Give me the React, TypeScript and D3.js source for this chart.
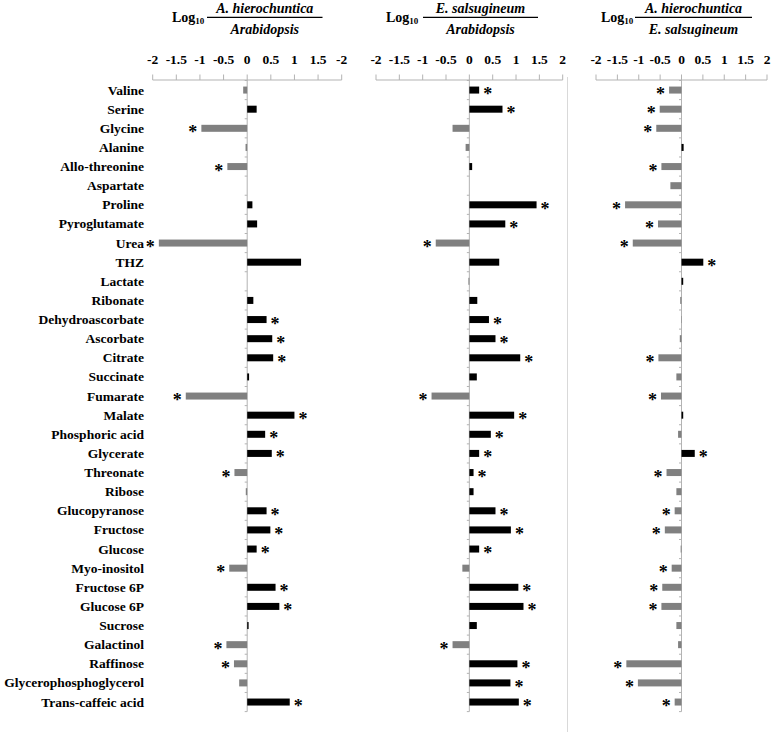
import React from 'react';
import * as d3 from 'd3';

// metabolite names, top to bottom
const categories = [
  'Valine', 'Serine', 'Glycine', 'Alanine', 'Allo-threonine', 'Aspartate', 'Proline',
  'Pyroglutamate', 'Urea', 'THZ', 'Lactate', 'Ribonate', 'Dehydroascorbate', 'Ascorbate',
  'Citrate', 'Succinate', 'Fumarate', 'Malate', 'Phosphoric acid', 'Glycerate', 'Threonate',
  'Ribose', 'Glucopyranose', 'Fructose', 'Glucose', 'Myo-inositol', 'Fructose 6P',
  'Glucose 6P', 'Sucrose', 'Galactinol', 'Raffinose', 'Glycerophosphoglycerol',
  'Trans-caffeic acid',
];

// log10 ratios
const ahVsAt = [
  -0.085, 0.2, -0.97, -0.035, -0.42, 0, 0.11, 0.21, -1.87, 1.14, 0, 0.13, 0.41, 0.53, 0.55,
  0.04, -1.3, 1.0, 0.38, 0.52, -0.27, -0.03, 0.41, 0.49, 0.2, -0.38, 0.6, 0.68, 0.03, -0.44,
  -0.28, -0.17, 0.9,
];
const ahVsAtSig = [
  0, 0, 1, 0, 1, 0, 0, 0, 1, 0, 0, 0, 1, 1, 1, 0, 1, 1, 1, 1, 1, 0, 1, 1, 1, 1, 1, 1, 0, 1, 1, 0, 1,
];

const esVsAt = [
  0.21, 0.71, -0.36, -0.08, 0.06, 0, 1.44, 0.77, -0.72, 0.64, -0.02, 0.17, 0.42, 0.56, 1.09,
  0.16, -0.81, 0.96, 0.46, 0.21, 0.09, 0.09, 0.56, 0.89, 0.21, -0.15, 1.05, 1.16, 0.16, -0.36,
  1.03, 0.88, 1.06,
];
const esVsAtSig = [
  1, 1, 0, 0, 0, 0, 1, 1, 1, 0, 0, 0, 1, 1, 1, 0, 1, 1, 1, 1, 1, 0, 1, 1, 1, 0, 1, 1, 0, 1, 1, 1, 1,
];

const ahVsEs = [
  -0.29, -0.51, -0.59, 0.05, -0.47, -0.26, -1.32, -0.55, -1.14, 0.51, 0.04, -0.03, -0.01, -0.04,
  -0.54, -0.12, -0.48, 0.04, -0.08, 0.31, -0.35, -0.12, -0.16, -0.39, -0.02, -0.23, -0.45, -0.47,
  -0.12, -0.08, -1.29, -1.02, -0.16,
];
const ahVsEsSig = [
  1, 1, 1, 0, 1, 0, 1, 1, 1, 1, 0, 0, 0, 0, 1, 0, 1, 0, 0, 1, 1, 0, 1, 1, 0, 1, 1, 1, 0, 0, 1, 1, 1,
];

const tickValues = [-2, -1.5, -1, -0.5, 0, 0.5, 1, 1.5, 2];
const ticksPanel1 = ['-2', '-1.5', '-1', '-0.5', '0', '0.5', '1', '1.5', '-2'];
const ticksDefault = ['-2', '-1.5', '-1', '-0.5', '0', '0.5', '1', '1.5', '2'];

const FONT = '"Liberation Serif", "Times New Roman", serif';
const AXIS = '#b3b3b3';

const panels = [
  { left: 152.7, right: 341.7, values: ahVsAt, sig: ahVsAtSig, ticks: ticksPanel1, num: 'A. hierochuntica', den: 'Arabidopsis', logX: 172, lineX: [207, 322.5] },
  { left: 376, right: 562.7, values: esVsAt, sig: esVsAtSig, ticks: ticksDefault, num: 'E. salsugineum', den: 'Arabidopsis', logX: 386, lineX: [423, 538] },
  { left: 596, right: 767, values: ahVsEs, sig: ahVsEsSig, ticks: ticksDefault, num: 'A. hierochuntica', den: 'E. salsugineum', logX: 601, lineX: [635, 752] },
];

const y = d3.scaleBand().domain(categories).range([80.5, 711.6]);
const barH = 7;

const Panel = ({ p }) => {
  const x = d3.scaleLinear().domain([-2, 2]).range([p.left, p.right]);
  const x0 = x(0);
  const cx = (p.lineX[0] + p.lineX[1]) / 2;
  return (
    <g>
      {/* header: Log10 (numerator / denominator) */}
      <text x={p.logX} y={22} fontSize={14} fontWeight="bold" fontFamily={FONT}>
        Log<tspan fontSize={9} dy={2}>10</tspan>
      </text>
      <line x1={p.lineX[0]} x2={p.lineX[1]} y1={17.3} y2={17.3} stroke="#000" strokeWidth={1.3} />
      <text x={cx} y={13} textAnchor="middle" fontSize={14} fontWeight="bold" fontStyle="italic" fontFamily={FONT}>{p.num}</text>
      <text x={cx} y={34} textAnchor="middle" fontSize={14} fontWeight="bold" fontStyle="italic" fontFamily={FONT}>{p.den}</text>

      {/* top x axis */}
      <line x1={x(-2)} x2={x(2)} y1={80} y2={80} stroke={AXIS} />
      {tickValues.map((t, i) => (
        <g key={t}>
          <line x1={x(t)} x2={x(t)} y1={74.5} y2={80} stroke={AXIS} />
          <text x={x(t)} y={64} textAnchor="middle" fontSize={13.5} fontWeight="bold" fontFamily={FONT}>{p.ticks[i]}</text>
        </g>
      ))}

      {/* zero axis */}
      <line x1={x0} x2={x0} y1={80} y2={711.6} stroke={AXIS} />
      {d3.range(categories.length + 1).map(k => {
        const yy = 80.5 + k * y.step();
        return <line key={k} x1={x0 - 2.5} x2={x0} y1={yy} y2={yy} stroke={AXIS} />;
      })}

      {p.values.map((v, i) => {
        const yc = y(categories[i]) + y.bandwidth() / 2;
        const xa = Math.min(x(v), x0);
        const w = Math.abs(x(v) - x0);
        return (
          <g key={i}>
            <rect x={xa} y={yc - barH / 2} width={w} height={barH} fill={v >= 0 ? '#000' : '#808080'} />
            {p.sig[i] ? (
              <text x={v >= 0 ? x(v) + 8.5 : x(v) - 8.5} y={yc + 10} textAnchor="middle" fontSize={18} fontWeight="bold" fontFamily={FONT}>*</text>
            ) : null}
          </g>
        );
      })}
    </g>
  );
};

export default function App() {
  return (
    <svg width={775} height={732} style={{ position: 'absolute', left: 0, top: 0, background: '#fff' }}>
      <rect width={775} height={732} fill="#fff" />
      {categories.map(c => (
        <text key={c} x={144} y={y(c) + y.bandwidth() / 2 + 4.5} textAnchor="end" fontSize={13.5} fontWeight="bold" fontFamily={FONT}>{c}</text>
      ))}
      <line x1={567.5} x2={567.5} y1={77} y2={732} stroke="#d9d9d9" />
      {panels.map((p, i) => <Panel key={i} p={p} />)}
    </svg>
  );
}
